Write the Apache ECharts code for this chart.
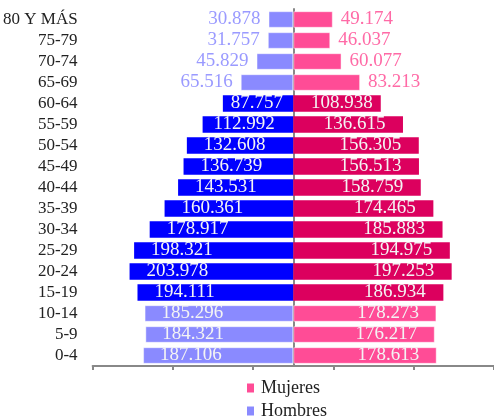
<!DOCTYPE html>
<html>
<head>
<meta charset="utf-8">
<script src="https://cdn.jsdelivr.net/npm/echarts@6/dist/echarts.min.js"></script>
<style>
html,body{margin:0;padding:0;background:#fff;}
#chart{width:494px;height:417px;}
</style>
</head>
<body>
<div id="chart"></div>
<script>
const categories = ['0-4','5-9','10-14','15-19','20-24','25-29','30-34','35-39','40-44','45-49','50-54','55-59','60-64','65-69','70-74','75-79','80 Y MÁS'];
const hombres = [187.106,184.321,185.296,194.111,203.978,198.321,178.917,160.361,143.531,136.739,132.608,112.992,87.757,65.516,45.829,31.757,30.878];
const mujeres = [178.613,176.217,178.273,186.934,197.253,194.975,185.883,174.465,158.759,156.513,156.305,136.615,108.938,83.213,60.077,46.037,49.174];
const xTicks = {min: -250, max: 250, interval: 100};

const FONT = '"Liberation Serif", "DejaVu Serif", serif';
const C = {
  hLight: '#8A8AFF', hDark: '#0000FF', hLabel: '#9A9AFF',
  mLight: '#FF4C96', mDark: '#DC005E', mLabel: '#FF6AA6',
  insideLabel: '#F4F4F4'
};
const isDark = i => i >= 3 && i <= 12;

const hData = hombres.map((v, i) => {
  const dark = isDark(i);
  const outside = i >= 13;
  return {
    value: -v,
    itemStyle: dark ? {color: C.hDark} : {color: C.hLight, borderColor: 'rgba(255,255,255,0.45)', borderWidth: 1},
    label: outside ? {position: 'left', distance: 8, color: C.hLabel}
                   : {position: 'insideLeft', distance: v < 120 ? (v < 100 ? 8 : 11) : 17, color: C.insideLabel}
  };
});
const mData = mujeres.map((v, i) => {
  const dark = isDark(i);
  const outside = i >= 13;
  return {
    value: v,
    itemStyle: dark ? {color: C.mDark} : {color: C.mLight, borderColor: 'rgba(255,255,255,0.45)', borderWidth: 1},
    label: outside ? {position: 'right', distance: 8, color: C.mLabel}
                   : {position: 'insideRight', distance: v < 120 ? 8 : 17.5, color: C.insideLabel}
  };
});

const chart = echarts.init(document.getElementById('chart'), null, {renderer: 'canvas'});
chart.setOption({
  animation: false,
  backgroundColor: '#fff',
  textStyle: {fontFamily: FONT},
  grid: {left: 89, width: 407, top: 9, bottom: 51, containLabel: false},
  legend: {
    data: ['Mujeres', 'Hombres'],
    orient: 'vertical',
    left: 247, top: 379, height: 80,
    padding: 0,
    itemWidth: 7, itemHeight: 9, itemGap: 5,
    icon: 'rect',
    textStyle: {fontFamily: FONT, fontSize: 18, lineHeight: 16, color: '#222', padding: [0,0,0,2]}
  },
  xAxis: {
    type: 'value',
    min: xTicks.min, max: xTicks.max, interval: xTicks.interval,
    axisLine: {show: true, onZero: false, lineStyle: {color: '#888', width: 2}},
    axisTick: {show: true, length: 4, lineStyle: {color: '#888', width: 2}},
    axisLabel: {show: false},
    splitLine: {show: false}
  },
  yAxis: [{
    type: 'category',
    data: categories,
    position: 'left',
    axisLine: {show: false, onZero: false},
    axisTick: {show: false},
    axisLabel: {interval: 0, fontFamily: FONT, fontSize: 17, color: '#222', margin: 15}
  }, {
    type: 'category',
    data: categories,
    axisLine: {show: true, onZero: true, lineStyle: {color: '#888', width: 2}},
    axisTick: {show: false},
    axisLabel: {show: false}
  }],
  series: [{
    name: 'Hombres', type: 'bar', stack: 'total', barWidth: '79%',
    itemStyle: {color: C.hLight},
    label: {show: true, fontFamily: FONT, fontSize: 19, formatter: p => Math.abs(p.value).toFixed(3)},
    data: hData
  }, {
    name: 'Mujeres', type: 'bar', stack: 'total', barWidth: '79%',
    itemStyle: {color: C.mLight},
    label: {show: true, fontFamily: FONT, fontSize: 19, formatter: p => Math.abs(p.value).toFixed(3)},
    data: mData
  }]
});
</script>
</body>
</html>
